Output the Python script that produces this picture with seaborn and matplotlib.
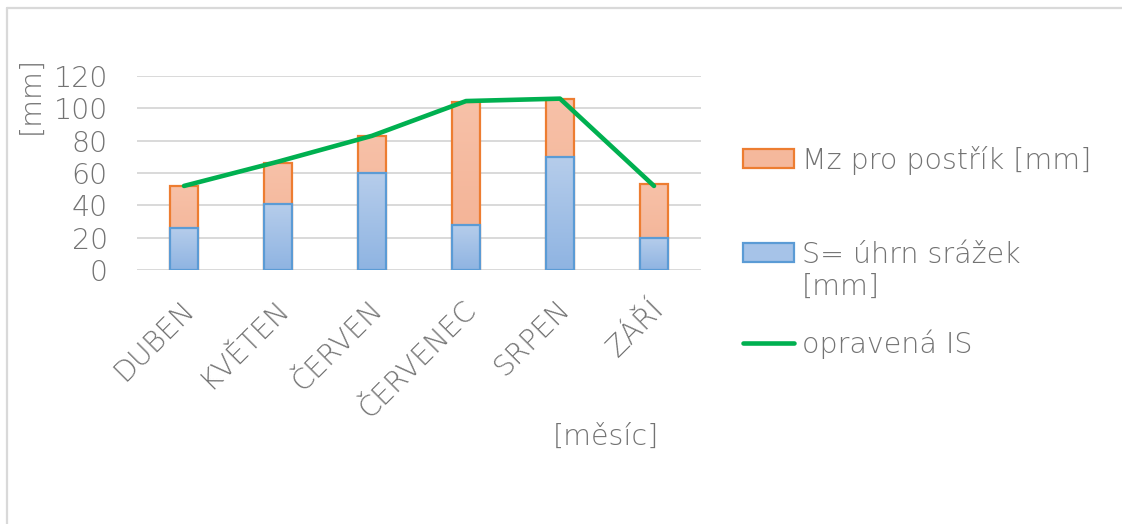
import matplotlib
matplotlib.use("Agg")
import matplotlib.pyplot as plt
import matplotlib.transforms as mtransforms
from matplotlib.colors import LinearSegmentedColormap
from matplotlib.lines import Line2D
import seaborn as sns
import numpy as np

# Monthly values [mm]
months = ["DUBEN", "KVĚTEN", "ČERVEN", "ČERVENEC", "SRPEN", "ZÁŘÍ"]
srazky = [26, 41, 60, 28, 70, 20]          # S = úhrn srážek
mz_postrik = [26, 25, 23, 76, 36, 33]      # Mz pro postřík
opravena_is = [52, 67, 83, 104.5, 106, 52]  # opravená IS
y_ticks = [0, 20, 40, 60, 80, 100, 120]

label_mz = "Mz pro postřík [mm]"
label_s = "S= úhrn srážek\n[mm]"
label_is = "opravená IS"

sns.set_theme(style="white")
plt.rcParams["font.family"] = ["DejaVu Sans"]
plt.rcParams["font.weight"] = "light"

FS = 20.5
text_gray = "#737373"
blue_fill, blue_edge = "#a6c3e8", "#5b9bd5"
orange_fill, orange_edge = "#f5b89c", "#ed7d31"
green = "#00b050"

W, H = 1122, 524
fig = plt.figure(figsize=(W / 100, H / 100), dpi=100)
ax = fig.add_axes([137 / W, 1 - 270 / H, (701 - 137) / W, (270 - 76) / H])

totals = np.array(srazky) + np.array(mz_postrik)
bar_w = 0.29
sns.barplot(x=months, y=totals, ax=ax, color=orange_fill, edgecolor=orange_edge,
            linewidth=1.6, width=bar_w, saturation=1, zorder=2)
n_first = len(ax.patches)
sns.barplot(x=months, y=srazky, ax=ax, color=blue_fill, edgecolor=blue_edge,
            linewidth=1.6, width=bar_w, saturation=1, zorder=3)
sns.lineplot(x=months, y=opravena_is, ax=ax, color=green, linewidth=3.3,
             sort=False, zorder=5)

# soft vertical gradient inside the bars
blue_cmap = LinearSegmentedColormap.from_list("b", ["#8fb4e2", "#b6cdeb"])
orange_cmap = LinearSegmentedColormap.from_list("o", ["#f3b092", "#f7c1a8"])
grad = np.linspace(0, 1, 64).reshape(-1, 1)
for i, p in enumerate(ax.patches):
    cmap = orange_cmap if i < n_first else blue_cmap
    x0, y0 = p.get_x(), p.get_y()
    x1, y1 = x0 + p.get_width(), y0 + p.get_height()
    im = ax.imshow(grad, cmap=cmap, extent=[x0, x1, y0, y1], origin="lower",
                   aspect="auto", zorder=p.get_zorder() + 0.01, interpolation="bilinear")
    im.set_clip_path(p)
    p.set_facecolor("none")
    p.set_zorder(p.get_zorder() + 0.02)
ax.set_ylim(0, 120)
ax.set_xlim(-0.5, len(months) - 0.5)

ax.set_yticks(y_ticks)
ax.yaxis.grid(True, color="#d9d9d9", linewidth=1.4, zorder=0)
ax.set_axisbelow(True)
for s in ax.spines.values():
    s.set_visible(False)
ax.set_xlabel("")
ax.set_ylabel("")
ax.tick_params(axis="y", length=0, pad=21, labelsize=FS, labelcolor=text_gray)
ax.tick_params(axis="x", length=0, pad=0, labelsize=FS, labelcolor=text_gray)
ax.set_xticks(range(len(months)))
ax.set_xticklabels(months, rotation=45, ha="right", va="top", rotation_mode="anchor")
offset = mtransforms.ScaledTranslation(-0.04, -0.25, fig.dpi_scale_trans)
for lab in ax.get_xticklabels():
    lab.set_transform(lab.get_transform() + offset)

fig.text(31 / W, 1 - 95 / H, "[mm]", rotation=90, ha="center", va="center",
         fontsize=FS, color=text_gray)
fig.text(606 / W, 1 - 437 / H, "[měsíc]", ha="center", va="center",
         fontsize=FS, color=text_gray)

# legend: one block per series, stacked down the right side
px = FS * 100 / 72
leg_kw = dict(frameon=False, fontsize=FS, labelcolor=text_gray, handlelength=51 / px,
              handleheight=18 / px, handletextpad=8 / px, borderaxespad=0, borderpad=0)
entries = [
    (plt.Rectangle((0, 0), 1, 1, facecolor=orange_fill, edgecolor=orange_edge, linewidth=1.6),
     label_mz, 160),
    (plt.Rectangle((0, 0), 1, 1, facecolor=blue_fill, edgecolor=blue_edge, linewidth=1.6),
     label_s, 271),
    (Line2D([0], [0], color=green, linewidth=3.3), label_is, 344),
]
for handle, label, yc in entries:
    lg = fig.legend([handle], [label], loc="center left",
                    bbox_to_anchor=(743 / W, 1 - yc / H), **leg_kw)
    if "\n" in label:
        # keep the swatch level with the first text line
        h = lg.legend_handles[0]
        h.set_y(h.get_y() + 14.2)

# chart frame (top and left edges)
fig.add_artist(Line2D([7 / W, 1], [1 - 8 / H, 1 - 8 / H],
                      transform=fig.transFigure, color="#d9d9d9", linewidth=1.6))
fig.add_artist(Line2D([7 / W, 7 / W], [0, 1 - 8 / H],
                      transform=fig.transFigure, color="#d9d9d9", linewidth=1.6))

fig.savefig("out.png", dpi=100, facecolor="white")
